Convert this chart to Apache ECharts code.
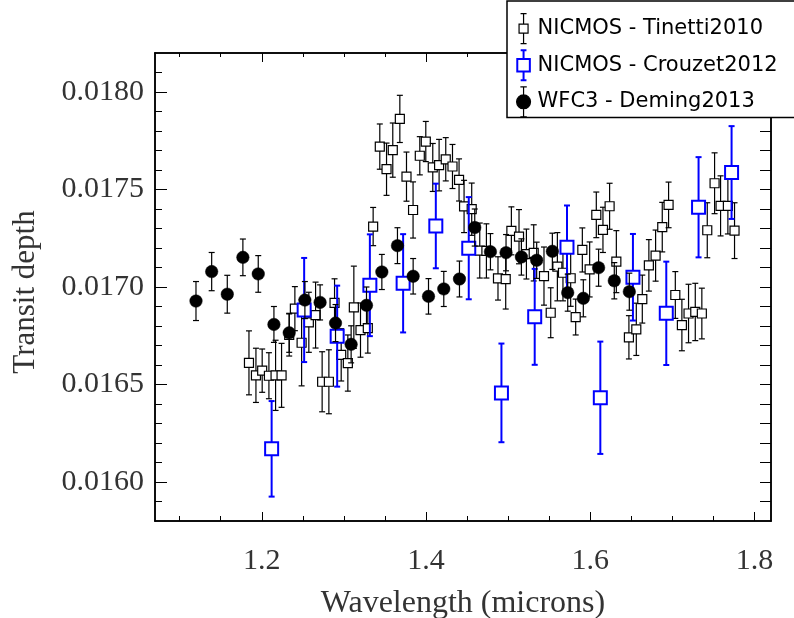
<!DOCTYPE html>
<html>
<head>
<meta charset="utf-8">
<script src="https://cdn.jsdelivr.net/npm/echarts@6/dist/echarts.min.js"></script>
<style>
  html, body { margin: 0; padding: 0; background: #fff; }
  #chart { width: 794px; height: 618px; }
</style>
</head>
<body>
<div id="chart"></div>
<script>
// HST/NICMOS (Tinetti 2010)
const xTinetti = [1.1844,1.1929,1.2005,1.2087,1.2168,1.2241,1.2334,1.2403,1.2485,1.2573,
  1.2655,1.2735,1.2817,1.2886,1.2967,1.3048,1.3121,1.3202,1.3291,1.3356,
  1.3437,1.3519,1.3595,1.3681,1.3762,1.3842,1.3924,1.3997,1.4082,1.4159,
  1.4240,1.4322,1.4402,1.4463,1.4556,1.4654,1.4735,1.4876,1.4970,1.5039,
  1.5132,1.5222,1.5311,1.5436,1.5518,1.5599,1.5667,1.5761,1.5822,1.5903,
  1.5992,1.6073,1.6154,1.6235,1.6317,1.6470,1.6560,1.6633,1.6713,1.6795,
  1.6876,1.6953,1.7035,1.7115,1.7196,1.7278,1.7358,1.7424,1.7513,1.7586,
  1.7675,1.7756];
const yTinetti = [0.016611,0.016547,0.016571,0.016545,0.016547,0.016547,0.016754,0.016889,0.016714,0.016819,
  0.016856,0.016514,0.016514,0.016919,0.016652,0.016610,0.016896,0.016779,0.016789,0.017310,
  0.017720,0.017604,0.017702,0.017862,0.017566,0.017395,0.017673,0.017746,0.017613,0.017625,
  0.017655,0.017618,0.017549,0.017413,0.017399,0.017187,0.017185,0.017044,0.017040,0.017288,
  0.017258,0.017169,0.017175,0.017056,0.016868,0.017104,0.017073,0.017045,0.016846,0.017190,
  0.017090,0.017370,0.017293,0.017414,0.017130,0.016742,0.016783,0.016938,0.017111,0.017161,
  0.017307,0.017421,0.016959,0.016805,0.016864,0.016872,0.016864,0.017291,0.017532,0.017416,
  0.017416,0.017289];
const errTinetti = [0.000164,0.000139,0.000111,0.000118,0.000180,0.000164,0.000108,0.000113,0.000221,0.000154,
  0.000169,0.000154,0.000164,0.000123,0.000134,0.000144,0.000211,0.000139,0.000128,0.000098,
  0.000116,0.000134,0.000139,0.000121,0.000126,0.000144,0.000098,0.000103,0.000123,0.000132,
  0.000111,0.000113,0.000108,0.000134,0.000134,0.000141,0.000139,0.000111,0.000153,0.000123,
  0.000139,0.000128,0.000144,0.000149,0.000128,0.000175,0.000144,0.000144,0.000092,0.000113,
  0.000141,0.000117,0.000116,0.000118,0.000159,0.000111,0.000134,0.000123,0.000132,0.000131,
  0.000127,0.000117,0.000120,0.000132,0.000150,0.000147,0.000130,0.000141,0.000156,0.000154,
  0.000144,0.000143];

// HST/NICMOS (Crouzet 2012)
const xCrouzet = [1.2120,1.2516,1.2918,1.3316,1.3721,1.4119,1.4520,1.4918,1.5323,1.5716,
  1.6122,1.6519,1.6925,1.7318,1.7720];
const yCrouzet = [0.016170,0.016882,0.016748,0.017009,0.017019,0.017313,0.017199,0.016457,0.016847,0.017204,
  0.016432,0.017050,0.016865,0.017409,0.017587];
const errCrouzet = [0.000245,0.000267,0.000259,0.000261,0.000252,0.000217,0.000262,0.000253,0.000246,0.000214,
  0.000288,0.000222,0.000265,0.000257,0.000238];

// HST/WFC3 (Deming 2013)
const xDeming = [1.1199,1.1390,1.1580,1.1770,1.1957,1.2148,1.2334,1.2525,1.2710,1.2898,
  1.3088,1.3275,1.3462,1.3652,1.3843,1.4030,1.4216,1.4407,1.4593,1.4784,
  1.4974,1.5161,1.5347,1.5538,1.5725,1.5915,1.6101,1.6292,1.6475];
const yDeming = [0.016928,0.017079,0.016963,0.017152,0.017067,0.016808,0.016765,0.016933,0.016921,0.016815,
  0.016706,0.016906,0.017077,0.017212,0.017055,0.016952,0.016990,0.017041,0.017305,0.017181,
  0.017176,0.017154,0.017137,0.017183,0.016971,0.016942,0.017099,0.017032,0.016976];
const errDeming = [0.000100,0.000098,0.000097,0.000094,0.000094,0.000092,0.000100,0.000095,0.000090,0.000095,
  0.000095,0.000094,0.000090,0.000092,0.000091,0.000091,0.000090,0.000092,0.000095,0.000093,
  0.000093,0.000093,0.000093,0.000093,0.000095,0.000095,0.000095,0.000093,0.000095];

const seriesNames = ['NICMOS - Tinetti2010', 'NICMOS - Crouzet2012', 'WFC3 - Deming2013'];

// Axis ticks
const xMajorTicks = [1.2, 1.4, 1.6, 1.8];
const xMinorTicks = [1.1, 1.15, 1.25, 1.3, 1.35, 1.45, 1.5, 1.55, 1.65, 1.7, 1.75];
const yMajorTicks = [0.0160, 0.0165, 0.0170, 0.0175, 0.0180];
const yMinorTicks = [0.0159, 0.0161, 0.0162, 0.0163, 0.0164, 0.0166, 0.0167, 0.0168, 0.0169,
  0.0171, 0.0172, 0.0173, 0.0174, 0.0176, 0.0177, 0.0178, 0.0179, 0.0181];

const X_MIN = 1.07, X_MAX = 1.82, Y_MIN = 0.0158, Y_MAX = 0.0182;

function rows(xs, ys, es) {
  return xs.map((x, i) => [x, ys[i], es[i]]);
}

// Error bar with caps, then the marker on top
function errorBarRenderer(cfg) {
  return function (params, api) {
    const x = api.value(0), y = api.value(1), e = api.value(2);
    const c = api.coord([x, y]);
    const hi = api.coord([x, y + e]);
    const lo = api.coord([x, y - e]);
    const half = cfg.cap / 2;
    const lineStyle = { stroke: cfg.color, lineWidth: cfg.barWidth };
    const children = [
      { type: 'line', shape: { x1: c[0], y1: hi[1], x2: c[0], y2: lo[1] }, style: lineStyle },
      { type: 'line', shape: { x1: c[0] - half, y1: hi[1], x2: c[0] + half, y2: hi[1] }, style: lineStyle },
      { type: 'line', shape: { x1: c[0] - half, y1: lo[1], x2: c[0] + half, y2: lo[1] }, style: lineStyle }
    ];
    if (cfg.marker === 'square') {
      const s = cfg.size;
      children.push({
        type: 'rect',
        shape: { x: c[0] - s / 2, y: c[1] - s / 2, width: s, height: s },
        style: { fill: '#fff', stroke: cfg.color, lineWidth: cfg.markerLine }
      });
    } else {
      children.push({
        type: 'circle',
        shape: { cx: c[0], cy: c[1], r: cfg.size / 2 },
        style: { fill: cfg.color, stroke: cfg.color, lineWidth: 0.5 }
      });
    }
    return { type: 'group', children: children };
  };
}

const serifFont = 'Liberation Serif';
const labelColor = '#333';

function xAxisDef(position, ticks, len, withLabels) {
  return {
    type: 'value', position: position, min: X_MIN, max: X_MAX,
    axisLine: { show: true, onZero: false, lineStyle: { color: '#000', width: 1.5 } },
    axisTick: { show: true, inside: true, length: len, customValues: ticks,
      lineStyle: { color: '#000', width: 1 } },
    axisLabel: withLabels ? {
      show: true, customValues: ticks, margin: 25,
      fontFamily: serifFont, fontSize: 30, color: labelColor,
      formatter: v => v.toFixed(1)
    } : { show: false },
    splitLine: { show: false }
  };
}

function yAxisDef(position, ticks, len, withLabels) {
  return {
    type: 'value', position: position, min: Y_MIN, max: Y_MAX,
    axisLine: { show: true, onZero: false, lineStyle: { color: '#000', width: 1.5 } },
    axisTick: { show: true, inside: true, length: len, customValues: ticks,
      lineStyle: { color: '#000', width: 1 } },
    axisLabel: withLabels ? {
      show: true, customValues: ticks, margin: 11,
      fontFamily: serifFont, fontSize: 30, color: labelColor,
      padding: [6, 0, 0, 0],
      formatter: v => v.toFixed(4)
    } : { show: false },
    splitLine: { show: false }
  };
}

const xAxes = [
  Object.assign(xAxisDef('bottom', xMajorTicks, 9, true), {
    name: 'Wavelength (microns)', nameLocation: 'middle', nameGap: 67,
    nameTextStyle: { fontFamily: serifFont, fontSize: 32, color: labelColor }
  }),
  xAxisDef('bottom', xMinorTicks, 5, false),
  xAxisDef('top', xMajorTicks, 9, false),
  xAxisDef('top', xMinorTicks, 4, false)
];
const yAxes = [
  Object.assign(yAxisDef('left', yMajorTicks, 12, true), {
    name: 'Transit depth', nameLocation: 'middle', nameGap: 114, nameRotate: 90,
    nameTextStyle: { fontFamily: serifFont, fontSize: 31, color: labelColor, padding: [0, 10, 0, 0] }
  }),
  yAxisDef('left', yMinorTicks, 7, false),
  yAxisDef('right', yMajorTicks, 11, false),
  yAxisDef('right', yMinorTicks, 11, false)
];

// Legend icons: marker with its error bar
const iconTinetti = 'path://M6,0.5H12M9,0.5V11M4.5,11H13.5V20H4.5ZM9,20V30.5M6,30.5H12';
const iconCrouzet = 'path://M5.5,0H11.5M8.5,0V9M2,9H15V22H2ZM8.5,22V31M5.5,31H11.5';
const iconDeming = 'path://M6,1.5H12M9,1.5V29.5M6,29.5H12M2.5,15.5A6.5,6.5 0 1 0 15.5,15.5A6.5,6.5 0 1 0 2.5,15.5Z';

const chart = echarts.init(document.getElementById('chart'), null, { renderer: 'canvas' });
chart.setOption({
  animation: false,
  backgroundColor: '#fff',
  grid: { left: 155, right: 23, top: 53, bottom: 97, containLabel: false, outerBoundsMode: 'none' },
  xAxis: xAxes,
  yAxis: yAxes,
  legend: {
    orient: 'vertical', left: 507, top: 1,
    padding: [12, 24, 0, 9],
    itemWidth: 18, itemHeight: 30, itemGap: 5,
    backgroundColor: '#fff', borderColor: '#000', borderWidth: 1.5, borderRadius: 0,
    selectedMode: false,
    textStyle: { fontFamily: 'DejaVu Sans', fontSize: 21, color: '#000' },
    data: [
      { name: seriesNames[0], icon: iconTinetti,
        itemStyle: { color: '#fff', borderColor: '#000', borderWidth: 1.2 } },
      { name: seriesNames[1], icon: iconCrouzet,
        itemStyle: { color: '#fff', borderColor: '#0000ff', borderWidth: 2 } },
      { name: seriesNames[2], icon: iconDeming,
        itemStyle: { color: '#000', borderColor: '#000', borderWidth: 1.2 } }
    ]
  },
  series: [
    {
      name: seriesNames[0], type: 'custom', coordinateSystem: 'cartesian2d',
      xAxisIndex: 0, yAxisIndex: 0,
      itemStyle: { color: '#000' },
      encode: { x: 0, y: 1 },
      renderItem: errorBarRenderer({ color: '#000', barWidth: 1.2, cap: 6, marker: 'square', size: 9, markerLine: 1.2 }),
      data: rows(xTinetti, yTinetti, errTinetti), z: 2
    },
    {
      name: seriesNames[1], type: 'custom', coordinateSystem: 'cartesian2d',
      xAxisIndex: 0, yAxisIndex: 0,
      itemStyle: { color: '#0000ff' },
      encode: { x: 0, y: 1 },
      renderItem: errorBarRenderer({ color: '#0000ff', barWidth: 2, cap: 6, marker: 'square', size: 13, markerLine: 2 }),
      data: rows(xCrouzet, yCrouzet, errCrouzet), z: 3
    },
    {
      name: seriesNames[2], type: 'custom', coordinateSystem: 'cartesian2d',
      xAxisIndex: 0, yAxisIndex: 0,
      itemStyle: { color: '#000' },
      encode: { x: 0, y: 1 },
      renderItem: errorBarRenderer({ color: '#000', barWidth: 1.2, cap: 6, marker: 'circle', size: 12.5 }),
      data: rows(xDeming, yDeming, errDeming), z: 4
    }
  ]
});
</script>
</body>
</html>
